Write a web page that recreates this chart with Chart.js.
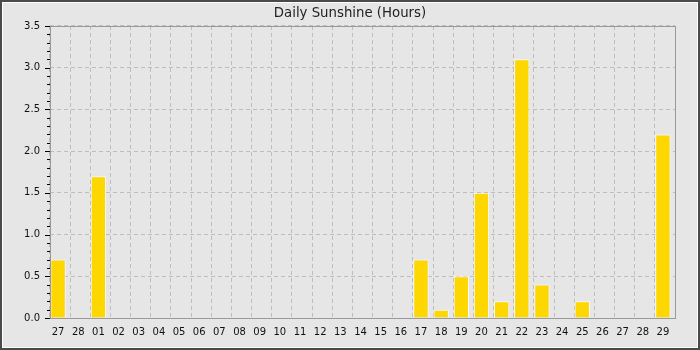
<!DOCTYPE html>
<html>
<head>
<meta charset="utf-8">
<script src="https://cdn.jsdelivr.net/npm/chart.js@4"></script>
<style>
  html, body { margin: 0; padding: 0; background: #e6e6e6; }
  #wrap { width: 700px; height: 350px; position: relative; }
</style>
</head>
<body>
<div id="wrap"><canvas id="chart"></canvas></div>
<script>
// Days shown on the x axis
const days = ["27", "28", "01", "02", "03", "04", "05", "06", "07", "08", "09", "10",
  "11", "12", "13", "14", "15", "16", "17", "18", "19", "20", "21", "22", "23",
  "24", "25", "26", "27", "28", "29"];

// Sunshine hours per day
const sunshine = [0.7, 0, 1.7, 0, 0, 0, 0, 0, 0, 0, 0, 0,
  0, 0, 0, 0, 0, 0, 0.7, 0.1, 0.5, 1.5, 0.2, 3.1, 0.4,
  0, 0.2, 0, 0, 0, 2.2];

const yMin = 0;
const yMax = 3.5;
const yStep = 0.5;
const yMinorStep = 0.1;

// Background, frame and axis decorations
const framePlugin = {
  id: "frame",
  beforeDraw(chart) {
    const ctx = chart.ctx;
    ctx.save();
    ctx.fillStyle = "#e6e6e6";
    ctx.fillRect(0, 0, chart.width, chart.height);
    ctx.restore();
  },
  // bars sit a little left of the cell centre in the original
  beforeDatasetsDraw(chart) {
    chart.ctx.save();
    chart.ctx.translate(-2, 0);
  },
  afterDatasetsDraw(chart) {
    chart.ctx.restore();
  },
  afterDraw(chart) {
    const ctx = chart.ctx;
    const a = chart.chartArea;
    const y = chart.scales.y;
    ctx.save();
    // plot box
    ctx.strokeStyle = "#999999";
    ctx.lineWidth = 1;
    ctx.strokeRect(Math.round(a.left) + 0.5, Math.round(a.top) + 0.5,
      Math.round(a.right - a.left), Math.round(a.bottom - a.top));
    // y ticks, major and minor
    ctx.strokeStyle = "#000000";
    const left = Math.round(a.left);
    const n = Math.round((yMax - yMin) / yMinorStep);
    for (let i = 0; i <= n; i++) {
      const v = yMin + i * yMinorStep;
      const py = Math.round(y.getPixelForValue(v)) + 0.5;
      const len = i % 5 === 0 ? 5 : 3;
      ctx.beginPath();
      ctx.moveTo(left - len, py);
      ctx.lineTo(left, py);
      ctx.stroke();
    }
    // outer frame
    ctx.strokeStyle = "#4a4a4a";
    ctx.lineWidth = 2;
    ctx.strokeRect(1, 1, chart.width - 2, chart.height - 2);
    ctx.strokeStyle = "#ffffff";
    ctx.lineWidth = 1;
    ctx.strokeRect(2.5, 2.5, chart.width - 5, chart.height - 5);
    ctx.restore();
  }
};

new Chart(document.getElementById("chart"), {
  type: "bar",
  data: {
    labels: days,
    datasets: [{
      label: "Sunshine",
      data: sunshine,
      backgroundColor: "#ffd700",
      borderColor: "rgba(255,255,255,0.85)",
      borderWidth: 1,
      barPercentage: 0.76,
      categoryPercentage: 1.0
    }]
  },
  options: {
    responsive: true,
    maintainAspectRatio: false,
    animation: false,
    layout: { padding: { left: 0, right: 0, top: 0, bottom: 0 } },
    plugins: {
      legend: { display: false },
      tooltip: { enabled: false },
      title: {
        display: true,
        text: "Daily Sunshine (Hours)",
        color: "#222222",
        font: { family: "DejaVu Sans", size: 13.3, weight: "normal" },
        padding: { top: 6, bottom: 4 }
      }
    },
    scales: {
      x: {
        grid: {
          offset: true,
          color: "#bdbdbd",
          drawTicks: false
        },
        border: { display: false, dash: [4, 3] },
        ticks: {
          color: "#111111",
          font: { family: "DejaVu Sans", size: 10 },
          padding: 8,
          labelOffset: -2,
          maxRotation: 0,
          autoSkip: false
        },
        afterFit(scale) { scale.height = 32; }
      },
      y: {
        min: yMin,
        max: yMax,
        grid: {
          color: "#bdbdbd",
          drawTicks: false
        },
        border: { display: false, dash: [4, 3] },
        ticks: {
          stepSize: yStep,
          color: "#111111",
          font: { family: "DejaVu Sans", size: 10 },
          padding: 10,
          callback: (v) => v.toFixed(1)
        },
        afterFit(scale) { scale.width = 50; }
      },
      // empty right-hand margin so the title stays centred on the page
      yRight: {
        position: "right",
        min: yMin,
        max: yMax,
        grid: { display: false, drawTicks: false },
        border: { display: false },
        ticks: { display: false },
        afterFit(scale) { scale.width = 25; }
      }
    }
  },
  plugins: [framePlugin]
});
</script>
</body>
</html>
